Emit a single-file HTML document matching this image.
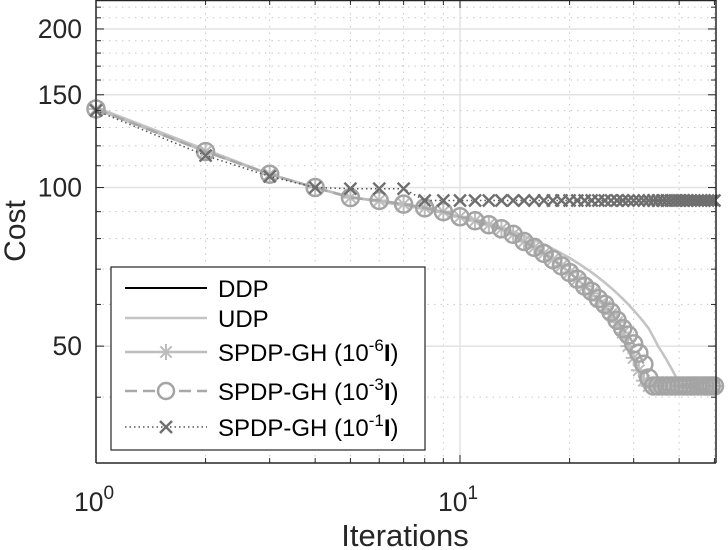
<!DOCTYPE html>
<html><head><meta charset="utf-8">
<style>
html,body{margin:0;padding:0;background:#fff;}
svg{display:block;font-family:"Liberation Sans",sans-serif;}
</style></head>
<body>
<svg id="chart" width="728" height="550" viewBox="0 0 728 550" xmlns="http://www.w3.org/2000/svg"></svg>
<script>
const iterations = Array.from({length:50},(_,i)=>i+1);
const ddpCost = [142,118,106,100,96,94,92.5,91,89.5,88,87,85.5,84,82.5,81,79.5,78,76.5,75,73.5,72,70.5,69,67.5,66,64.5,63,61.5,60,58.5,57,55.5,54,52,50,48.5,47,45.5,44,42.5,42,42,42,42,42,42,42,42,42,42];
const udpCost = [142,118,106,100,96,94,92.5,91,89.5,88,87,85.5,84,82.5,81,79.5,78,76.5,75,73.5,72,70.5,69,67.5,66,64.5,63,61.5,60,58.5,57,55.5,54,52,50,48.5,47,45.5,44,42.5,42,42,42,42,42,42,42,42,42,42];
const spdp6Cost = [141,117,106,100,95.7,94.5,93,91.5,90,88,86.5,85,83.5,81.5,79,77,75,73,71,69,67,65,63,61,59.5,57.5,55.5,53,50,47.5,45,43,42,42,42,42,42,42,42,42,42,42,42,42,42,42,42,42,42,42];
const spdp3Cost = [141,117,106,100,95.7,94.5,93,91.5,90,88,86.5,85,83.5,81.5,79,77,75,73,71,69,67,65,63.5,61.5,60,58,56,54,52.5,50.5,48.5,46.2,43.5,42,42,42,42,42,42,42,42,42,42,42,42,42,42,42,42,42];
const spdp1Cost = [140,115,105,100,99.5,99.5,99.5,94.5,94.5,94.5,94.5,94.5,94.5,94.5,94.5,94.5,94.5,94.5,94.5,94.5,94.5,94.5,94.5,94.5,94.5,94.5,94.5,94.5,94.5,94.5,94.5,94.5,94.5,94.5,94.5,94.5,94.5,94.5,94.5,94.5,94.5,94.5,94.5,94.5,94.5,94.5,94.5,94.5,94.5,94.5];
const yTickValues = [50,100,150,200];

const L=96,R=716,T=0,B=463;
const xMin=1,xMax=50.5,yMin=30,yMax=227;
const xs=v=>L+(Math.log10(v)-Math.log10(xMin))/(Math.log10(xMax)-Math.log10(xMin))*(R-L);
const ys=v=>B-(Math.log10(v)-Math.log10(yMin))/(Math.log10(yMax)-Math.log10(yMin))*(B-T);
const NS="http://www.w3.org/2000/svg";
const svg=document.getElementById('chart');
function mk(tag,attrs,parent){const e=document.createElementNS(NS,tag);for(const k in attrs)e.setAttribute(k,attrs[k]);(parent||svg).appendChild(e);return e;}

const grid=mk('g',{});


for(let d=0;d<=1;d++)for(let m=1;m<=9;m++){const v=m*Math.pow(10,d);if(v>xMax)continue;const x=xs(v);
  if(m===1){mk('line',{x1:x,x2:x,y1:T,y2:B,stroke:'#e3e3e3','stroke-width':1.5},grid);}
  else mk('line',{x1:x,x2:x,y1:T,y2:B,stroke:'#c8c8c8','stroke-width':1,'stroke-dasharray':'1.5 5'},grid);}
for(let v=30;v<=220;v+=10){const y=ys(v);
  if(yTickValues.includes(v)) mk('line',{x1:L,x2:R,y1:y,y2:y,stroke:'#e3e3e3','stroke-width':1.5},grid);
  else mk('line',{x1:L,x2:R,y1:y,y2:y,stroke:'#c8c8c8','stroke-width':1,'stroke-dasharray':'1.5 5'},grid);}

function path(vals){return vals.map((v,i)=>(i?'L':'M')+xs(iterations[i]).toFixed(2)+' '+ys(v).toFixed(2)).join(' ');}
function star(g,cx,cy,r,col){for(let a=0;a<4;a++){const t=a*Math.PI/4;mk('line',{x1:cx-r*Math.cos(t),y1:cy-r*Math.sin(t),x2:cx+r*Math.cos(t),y2:cy+r*Math.sin(t),stroke:col,'stroke-width':2},g);}}
function cross(g,cx,cy,r,col){mk('line',{x1:cx-r,y1:cy-r,x2:cx+r,y2:cy+r,stroke:col,'stroke-width':2.4},g);mk('line',{x1:cx-r,y1:cy+r,x2:cx+r,y2:cy-r,stroke:col,'stroke-width':2.4},g);}

const sD=mk('path',{d:path(ddpCost),fill:'none',stroke:'#000','stroke-width':2});


const sU=mk('path',{d:path(udpCost),fill:'none',stroke:'#c4c4c4','stroke-width':2.5});



const g6=mk('g',{});


mk('path',{d:path(spdp6Cost),fill:'none',stroke:'#bdbdbd','stroke-width':2.5},g6);
spdp6Cost.forEach((v,i)=>star(g6,xs(iterations[i]),ys(v),8,'#bdbdbd'));

const g3=mk('g',{});


mk('path',{d:path(spdp3Cost),fill:'none',stroke:'#a8a8a8','stroke-width':2.5,'stroke-dasharray':'12 6'},g3);
spdp3Cost.forEach((v,i)=>mk('circle',{cx:xs(iterations[i]),cy:ys(v),r:8.5,fill:'none',stroke:'#a4a4a4','stroke-width':2.5},g3));

const g1=mk('g',{});


mk('path',{d:path(spdp1Cost),fill:'none',stroke:'#555','stroke-width':1.5,'stroke-dasharray':'1.5 3'},g1);
spdp1Cost.forEach((v,i)=>cross(g1,xs(iterations[i]),ys(v),6,'#6e6e6e'));

const ax=mk('g',{});


mk('line',{x1:L,x2:L,y1:T,y2:B,stroke:'#262626','stroke-width':1.5},ax);
mk('line',{x1:L,x2:R,y1:B,y2:B,stroke:'#262626','stroke-width':1.5},ax);
mk('line',{x1:R,x2:R,y1:T,y2:B,stroke:'#262626','stroke-width':1.5},ax);
mk('line',{x1:L,x2:R,y1:T+0.5,y2:T+0.5,stroke:'#262626','stroke-width':1.5},ax);
for(let d=0;d<=1;d++)for(let m=1;m<=9;m++){const v=m*Math.pow(10,d);if(v>xMax)continue;const x=xs(v);const len=m===1?8:5;
  mk('line',{x1:x,x2:x,y1:B,y2:B-len,stroke:'#262626','stroke-width':1},ax);mk('line',{x1:x,x2:x,y1:T,y2:T+len,stroke:'#262626','stroke-width':1},ax);}
for(let v=30;v<=220;v+=10){const y=ys(v);const len=yTickValues.includes(v)?8:5;
  mk('line',{x1:L,x2:L+len,y1:y,y2:y,stroke:'#262626','stroke-width':1},ax);mk('line',{x1:R,x2:R-len,y1:y,y2:y,stroke:'#262626','stroke-width':1},ax);}

yTickValues.forEach(v=>{const t=mk('text',{x:L-14,y:ys(v)+9,'text-anchor':'end','font-size':26.5,fill:'#262626'});t.textContent=v;
  
  });
[[1,'0'],[10,'1']].forEach(([v,e])=>{const t=mk('text',{x:xs(v)-22,y:511,'text-anchor':'start','font-size':26.5,fill:'#262626'});
  
  
  t.appendChild(document.createTextNode('10'));const s=mk('tspan',{dy:-12,'font-size':19},t);s.textContent=e;});

const xl=mk('text',{x:405,y:546,'text-anchor':'middle','font-size':31,fill:'#262626'});xl.textContent='Iterations';


const yl=mk('text',{x:0,y:0,'text-anchor':'middle','font-size':30,fill:'#262626',transform:'translate(25,231) rotate(-90)'});yl.textContent='Cost';



const lg=mk('g',{});


mk('rect',{x:111,y:267,width:314,height:183,fill:'#fff',stroke:'#262626','stroke-width':1.2},lg);
const ly=[288,318,352,391,427];
mk('line',{x1:125,x2:207,y1:ly[0],y2:ly[0],stroke:'#000','stroke-width':2},lg);
mk('line',{x1:125,x2:207,y1:ly[1],y2:ly[1],stroke:'#c4c4c4','stroke-width':2.5},lg);
mk('line',{x1:125,x2:207,y1:ly[2],y2:ly[2],stroke:'#bdbdbd','stroke-width':2.5},lg);star(lg,166,ly[2],8,'#bdbdbd');
mk('line',{x1:125,x2:207,y1:ly[3],y2:ly[3],stroke:'#a8a8a8','stroke-width':2.5,'stroke-dasharray':'12 6'},lg);
mk('circle',{cx:166,cy:ly[3],r:8,fill:'#fff',stroke:'#a4a4a4','stroke-width':2.5},lg);
mk('line',{x1:125,x2:207,y1:ly[4],y2:ly[4],stroke:'#555','stroke-width':1.5,'stroke-dasharray':'1.5 3'},lg);cross(lg,166,ly[4],6,'#6e6e6e');
const labels=[['DDP'],['UDP'],['SPDP-GH (10','-6'],['SPDP-GH (10','-3'],['SPDP-GH (10','-1']];
labels.forEach((l,i)=>{const t=mk('text',{x:218,y:ly[i]+9,'font-size':24,fill:'#000'},lg);
  
  
  t.appendChild(document.createTextNode(l[0]));
  if(l[1]){const s=mk('tspan',{dy:-10,'font-size':17},t);s.textContent=l[1];const b=mk('tspan',{dy:10,'font-weight':'bold'},t);b.textContent='I';t.appendChild(document.createTextNode(')'));}});
</script>
</body></html>
